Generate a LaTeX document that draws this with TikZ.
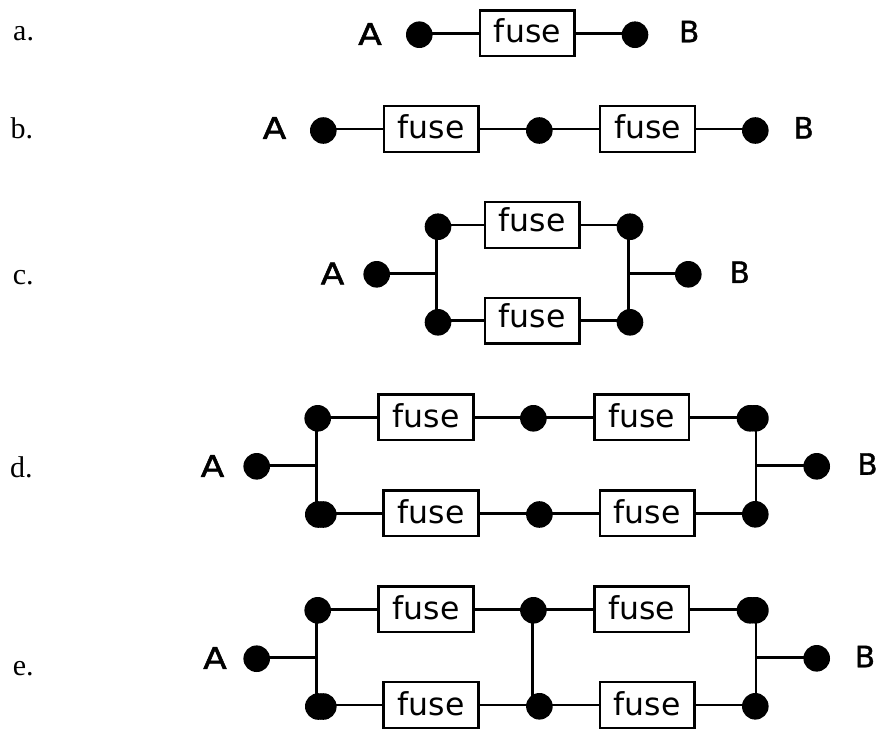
\documentclass[tikz,border=0pt]{standalone}
\usepackage{fontspec}
\setmainfont{Liberation Serif}
\newfontfamily\fusefont{DejaVu Sans}
\newfontfamily\afont[FakeBold=1.8,FakeStretch=1.15]{DejaVu Sans}
\newfontfamily\bfont[FakeBold=1.2]{DejaVu Sans}
\tikzset{
  wire/.style={line width=2.5pt},
  terminal/.style={circle,fill=black,inner sep=0pt,minimum size=26.6pt},
  fusebox/.style={draw,line width=2.5pt,fill=white,minimum width=94.6pt,minimum height=45.8pt,
    inner sep=0pt,text height=21pt,text depth=0pt,font=\fusefont\fontsize{31.5}{32}\selectfont},
  endA/.style={inner sep=0pt,font=\afont\fontsize{30}{30}\selectfont},
  endB/.style={inner sep=0pt,font=\bfont\fontsize{29.5}{30}\selectfont},
  rowlabel/.style={inner sep=0pt,anchor=base west,font=\fontsize{30}{30}\selectfont}
}
\begin{document}
\begin{tikzpicture}[x=1pt,y=-1pt]
  \useasboundingbox (0,0) rectangle (879,729);
  % row labels
  \node[rowlabel] (la) at (13,40) {a.};
  \node[rowlabel] (lb) at (10.5,138.3) {b.};
  \node[rowlabel] (lc) at (12.7,284) {c.};
  \node[rowlabel] (ld) at (10,477.3) {d.};
  \node[rowlabel] (le) at (12.7,675) {e.};
  % a
  \node[endA] (aA) at (370,34) {A};
  \node[terminal] (a1) at (419.3,34.7) {};
  \node[fusebox] (af) at (527.4,33.3) {\raisebox{1.4pt}{fuse}\hspace{9pt}};
  \node[terminal] (a2) at (635,34.7) {};
  \node[endB] (aB) at (689.2,31.5) {B};
  \draw[wire] (a1 |- af) -- (af.west);
  \draw[wire] (af.east) -- (a2 |- af);
  % b
  \node[endA] (bA) at (274.5,128) {A};
  \node[terminal] (b1) at (323.3,130.5) {};
  \node[fusebox] (bf1) at (431.3,129) {\raisebox{1.2pt}{fuse}\hspace{9pt}};
  \node[terminal] (b2) at (539.3,130.5) {};
  \node[fusebox] (bf2) at (647.5,129) {\raisebox{1.2pt}{fuse}\hspace{9pt}};
  \node[terminal] (b3) at (755.3,130.5) {};
  \node[endB] (bB) at (803.7,127.8) {B};
  \draw[wire] (b1 |- bf1) -- (bf1.west);
  \draw[wire] (bf1.east) -- (b2 |- bf1);
  \draw[wire] (b2 |- bf2) -- (bf2.west);
  \draw[wire] (bf2.east) -- (b3 |- bf2);
  % c
  \node[endA] (cA) at (332.5,273.5) {A};
  \node[terminal] (c1) at (376.7,274.3) {};
  \node[terminal] (c2) at (438,226.7) {};
  \node[terminal] (c3) at (438,322.3) {};
  \node[fusebox] (cf1) at (532.3,225) {\raisebox{4.5pt}{fuse}\hspace{9pt}};
  \node[fusebox] (cf2) at (532.3,320.7) {\raisebox{4.2pt}{fuse}\hspace{9pt}};
  \node[terminal] (c4) at (630,226.7) {};
  \node[terminal] (c5) at (630,322.3) {};
  \node[terminal] (c6) at (688.3,274.3) {};
  \node[endB] (cB) at (739.7,272.2) {B};
  \coordinate (cl) at (436.7,273.3);
  \coordinate (cr) at (628.7,273.3);
  \draw[wire] (c1 |- cl) -- (cl);
  \draw[wire] (c2 -| cl) -- (c3 -| cl);
  \draw[wire] (c2 |- cf1) -- (cf1.west);
  \draw[wire] (c3 |- cf2) -- (cf2.west);
  \draw[wire] (cf1.east) -- (c4 |- cf1);
  \draw[wire] (cf2.east) -- (c5 |- cf2);
  \draw[wire] (c4 -| cr) -- (c5 -| cr);
  \draw[wire] (cr) -- (c6 |- cr);
  % d
  \node[endA] (dA) at (212.5,466) {A};
  \node[terminal] (d1) at (256.7,466.3) {};
  \node[terminal] (d2) at (317.7,418.3) {};
  \node[terminal] (d3) at (318.3,514.5) {};
  \node[terminal] (d3b) at (323.3,514.5) {};
  \node[fusebox] (df1) at (426,417.3) {fuse\hspace{10pt}};
  \node[terminal] (d4) at (533.4,418.3) {};
  \node[fusebox] (df2) at (641.8,417.3) {fuse\hspace{9pt}};
  \node[fusebox] (df3) at (431,513.3) {fuse\hspace{9pt}};
  \node[terminal] (d5) at (539.4,514.5) {};
  \node[fusebox] (df4) at (647.2,513.3) {fuse\hspace{9pt}};
  \node[terminal] (d6) at (750,418.3) {};
  \node[terminal] (d6b) at (755.4,418.3) {};
  \node[terminal] (d7) at (755.3,514.3) {};
  \node[terminal] (d8) at (816.7,466.3) {};
  \node[endB] (dB) at (867.5,464) {B};
  \coordinate (dl) at (316.7,465.7);
  \coordinate (dr) at (756,465.7);
  \draw[wire] (d1 |- dl) -- (dl);
  \draw[wire] (d2 -| dl) -- (d3 -| dl);
  \draw[wire] (d2 |- df1) -- (df1.west);
  \draw[wire] (df1.east) -- (d4 |- df1);
  \draw[wire] (d4 |- df2) -- (df2.west);
  \draw[wire] (df2.east) -- (d6 |- df2);
  \draw[wire] (d3b |- df3) -- (df3.west);
  \draw[wire] (df3.east) -- (d5 |- df3);
  \draw[wire] (d5 |- df4) -- (df4.west);
  \draw[wire] (df4.east) -- (d7 |- df4);
  \draw[wire] (d6b -| dr) -- (d7 -| dr);
  \draw[wire] (dr) -- (d8 |- dr);
  % e
  \node[endA] (eA) at (215,658) {A};
  \node[terminal] (e1) at (256.7,658.7) {};
  \node[terminal] (e2) at (317.7,610.3) {};
  \node[terminal] (e3) at (318.3,706.5) {};
  \node[terminal] (e3b) at (323.3,706.5) {};
  \node[fusebox] (ef1) at (426,609.3) {fuse\hspace{5pt}};
  \node[terminal] (e4) at (533.4,610.3) {};
  \node[fusebox] (ef2) at (641.8,609.3) {fuse\hspace{4pt}};
  \node[fusebox] (ef3) at (431,705) {fuse\hspace{2.6pt}};
  \node[terminal] (e5) at (539.4,706.3) {};
  \node[fusebox] (ef4) at (647.2,705) {fuse\hspace{4pt}};
  \node[terminal] (e6) at (750,610.3) {};
  \node[terminal] (e6b) at (755.4,610.3) {};
  \node[terminal] (e7) at (755.3,706.3) {};
  \node[terminal] (e8) at (816.7,658.3) {};
  \node[endB] (eB) at (865,656.5) {B};
  \coordinate (el) at (316.7,657.7);
  \coordinate (em) at (532.5,657.7);
  \coordinate (er) at (756,657.7);
  \draw[wire] (e1 |- el) -- (el);
  \draw[wire] (e2 -| el) -- (e3 -| el);
  \draw[wire] (e2 |- ef1) -- (ef1.west);
  \draw[wire] (ef1.east) -- (e4 |- ef1);
  \draw[wire] (e4 |- ef2) -- (ef2.west);
  \draw[wire] (ef2.east) -- (e6 |- ef2);
  \draw[wire] (e3b |- ef3) -- (ef3.west);
  \draw[wire] (ef3.east) -- (e5 |- ef3);
  \draw[wire] (e5 |- ef4) -- (ef4.west);
  \draw[wire] (ef4.east) -- (e7 |- ef4);
  \draw[wire] (e4 -| em) -- (e5 -| em);
  \draw[wire] (e6b -| er) -- (e7 -| er);
  \draw[wire] (er) -- (e8 |- er);
\end{tikzpicture}
\end{document}
